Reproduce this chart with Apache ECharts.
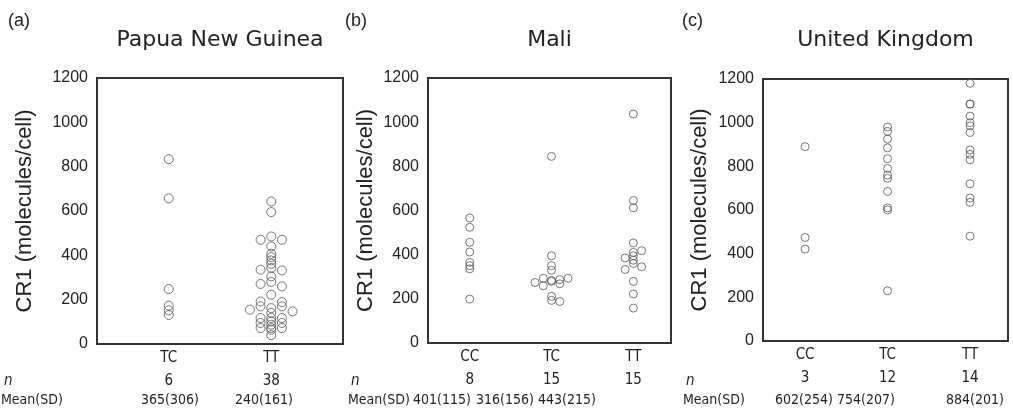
<!DOCTYPE html>
<html>
<head>
<meta charset="utf-8">
<script src="https://cdn.jsdelivr.net/npm/echarts@6/dist/echarts.min.js"></script>
<style>
html,body{margin:0;padding:0;background:#fff;}
#chart{width:1013px;height:414px;}
</style>
</head>
<body>
<div id="chart"></div>
<script>
// ---------------- DATA ----------------
const panelLetters = ['(a)', '(b)', '(c)'];
const panelTitles = ['Papua New Guinea', 'Mali', 'United Kingdom'];
const yAxisTitle = 'CR1 (molecules/cell)';
const yMin = 0, yMax = 1200, yStep = 200;

// (a) Papua New Guinea
const pngCats = ['TC', 'TT'];
const pngN = [6, 38];
const pngMean = ['365(306)', '240(161)'];
const pngTC = [834, 657, 248, 173, 152, 131];
const pngTCSlot = [0, 0, 0, 0, 0, 0];
const pngTT = [643, 595, 470, 485, 470, 440, 407, 392, 377, 362, 335, 343, 332, 305, 271, 280, 260, 222,
               155, 192, 170, 162, 189, 170, 147, 117, 95, 72, 117, 102, 87, 72, 64, 117, 95, 72, 40, 140];
const pngTTSlot = [0, 0, -1, 0, 1, 0, 0, 0, 0, 0, -1, 0, 1, 0, -1, 0, 1, 0,
                   -2, -1, -1, 0, 1, 1, 2, -1, -1, -1, 0, 0, 0, 0, 0, 1, 1, 1, 0, 0];

// (b) Mali
const maliCats = ['CC', 'TC', 'TT'];
const maliN = [8, 15, 15];
const maliMean = ['401(115)', '316(156)', '443(215)'];
const maliCC = [566, 524, 456, 412, 365, 350, 336, 199];
const maliCCSlot = [0, 0, 0, 0, 0, 0, 0, 0];
const maliTC = [845, 395, 350, 330, 274, 293, 259, 279, 287, 293, 283, 268, 211, 193, 188];
const maliTCSlot = [0, 0, 0, 0, -2, -1, -1, 0, 1, 2, 0, 1, 0, 0, 1];
const maliTT = [1037, 645, 612, 453, 418, 410, 385, 375, 345, 333, 395, 360, 279, 222, 158];
const maliTTSlot = [0, 0, 0, 0, 1, 0, -1, 0, 1, -1, 0, 0, 0, 0, 0];

// (c) United Kingdom
const ukCats = ['CC', 'TC', 'TT'];
const ukN = [3, 12, 14];
const ukMean = ['602(254)', '754(207)', '884(201)'];
const ukCC = [890, 474, 421];
const ukCCSlot = [0, 0, 0];
const ukTC = [980, 960, 925, 885, 835, 790, 760, 745, 685, 610, 600, 230];
const ukTCSlot = [0, 0, 0, 0, 0, 0, 0, 0, 0, 0, 0, 0];
const ukTT = [1180, 1085, 1085, 1030, 1000, 985, 955, 875, 855, 830, 720, 655, 635, 480];
const ukTTSlot = [0, 0, 0, 0, 0, 0, 0, 0, 0, 0, 0, 0, 0, 0];

const nRowLabel = 'n';
const meanRowLabel = 'Mean(SD)';

const panels = [
  { cats: pngCats, n: pngN, mean: pngMean, groups: [[pngTC, pngTCSlot], [pngTT, pngTTSlot]] },
  { cats: maliCats, n: maliN, mean: maliMean, groups: [[maliCC, maliCCSlot], [maliTC, maliTCSlot], [maliTT, maliTTSlot]] },
  { cats: ukCats, n: ukN, mean: ukMean, groups: [[ukCC, ukCCSlot], [ukTC, ukTCSlot], [ukTT, ukTTSlot]] }
];

// ---------------- LAYOUT ----------------
const L = {
  grids: [
    { left: 97, top: 78, width: 246, height: 266 },
    { left: 428, top: 78, width: 243, height: 265 },
    { left: 763, top: 79, width: 245, height: 262 }
  ],
  xRange: [[0.3, 2.7], [0.49, 3.46], [0.49, 3.46]],
  slotW: [0.104, 0.101, 0.101],
  symSize: [9, 8, 8],
  nameGap: [61, 51, 52],
  letterX: [8, 345, 682],
  rowLabelX: [1, 348, 683],
  nLabelX: [4, 351, 686],
  meanX: [[170, 264], [442, 505, 567], [804, 866, 975]],
  meanY: 400,
  nY: 381
};
const narrow = '"Liberation Sans Narrow", "DejaVu Sans Condensed", "Liberation Sans", sans-serif';
const sans = '"Liberation Sans", Arial, sans-serif';
const textColor = '#222';

const grid = [], xAxis = [], yAxis = [], series = [], title = [], graphic = [];

panels.forEach((p, k) => {
  const g = L.grids[k];
  grid.push(Object.assign({ show: true, borderColor: '#333', borderWidth: 2, backgroundColor: 'transparent', containLabel: false }, g));
  const cats = p.cats, ns = p.n;
  xAxis.push({
    type: 'value', gridIndex: k, min: L.xRange[k][0], max: L.xRange[k][1],
    axisLine: { show: false }, axisTick: { show: false }, splitLine: { show: false },
    axisLabel: {
      customValues: cats.map((c, i) => i + 1),
      margin: 3,
      formatter: v => { const i = Math.round(v) - 1; return '{c|' + cats[i] + '}\n{n|' + ns[i] + '}'; },
      rich: {
        c: { fontSize: 15, lineHeight: 23, fontFamily: narrow, color: textColor },
        n: { fontSize: 15, lineHeight: 23, fontFamily: narrow, color: textColor }
      }
    }
  });
  yAxis.push({
    type: 'value', gridIndex: k, min: yMin, max: yMax, interval: yStep,
    axisLine: { show: false }, axisTick: { show: false }, splitLine: { show: false },
    axisLabel: { fontSize: 16, fontFamily: sans, color: textColor, margin: 9, formatter: v => String(v) },
    name: yAxisTitle, nameLocation: 'middle', nameGap: L.nameGap[k],
    nameTextStyle: { fontSize: 22, fontFamily: sans, color: textColor }
  });
  p.groups.forEach((grp, ci) => {
    const vals = grp[0], slots = grp[1];
    series.push({
      type: 'scatter', xAxisIndex: k, yAxisIndex: k, clip: false, silent: true,
      symbol: 'circle', symbolSize: L.symSize[k],
      itemStyle: { color: 'rgba(0,0,0,0)', borderColor: '#555', borderWidth: 1 },
      data: vals.map((v, i) => [ci + 1 + slots[i] * L.slotW[k], v])
    });
  });
  title.push({
    text: panelTitles[k], left: g.left + g.width / 2, top: 29, textAlign: 'center', padding: 0,
    textStyle: { fontSize: 22, fontFamily: '"DejaVu Sans", sans-serif', fontWeight: 'normal', color: textColor }
  });
  graphic.push({ type: 'text', left: L.letterX[k], top: 12,
    style: { text: panelLetters[k], font: '18px ' + sans, fill: textColor } });
  graphic.push({ type: 'text', x: L.nLabelX[k], y: L.nY,
    style: { text: nRowLabel, font: 'italic 15px ' + narrow, fill: textColor, textVerticalAlign: 'middle' } });
  graphic.push({ type: 'text', x: L.rowLabelX[k], y: L.meanY,
    style: { text: meanRowLabel, font: '14px ' + narrow, fill: textColor, textVerticalAlign: 'middle' } });
  p.mean.forEach((m, i) => {
    graphic.push({ type: 'text', x: L.meanX[k][i], y: L.meanY,
      style: { text: m, font: '14px ' + narrow, fill: textColor, textAlign: 'center', textVerticalAlign: 'middle' } });
  });
});

const chart = echarts.init(document.getElementById('chart'), null, { renderer: 'canvas' });
chart.setOption({
  animation: false,
  backgroundColor: '#fff',
  title, grid, xAxis, yAxis, series, graphic
});
</script>
</body>
</html>
